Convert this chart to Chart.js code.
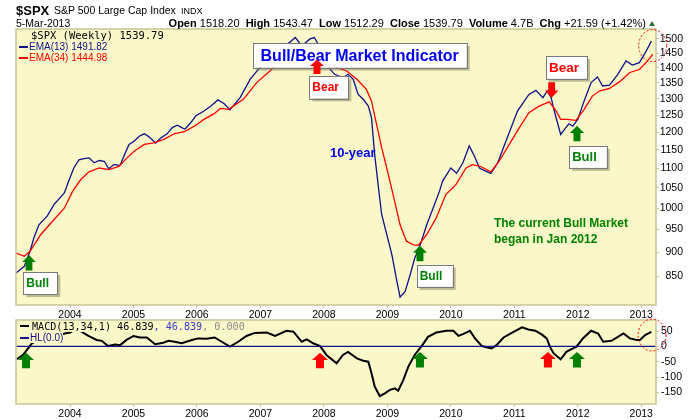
<!DOCTYPE html>
<html><head><meta charset="utf-8">
<script src="https://cdn.jsdelivr.net/npm/chart.js@4.4.1/dist/chart.umd.min.js"></script>
<style>
html,body{margin:0;padding:0;background:#fff;}
#wrap{position:relative;width:700px;height:420px;overflow:hidden;background:#fff;font-family:"Liberation Sans",Arial,sans-serif;color:#000;}
canvas{position:absolute;left:0;}
.t{position:absolute;white-space:nowrap;line-height:1;}
.mono{font-family:"DejaVu Sans Mono",monospace;}
.dash{display:inline-block;width:9px;height:2px;vertical-align:middle;margin-right:1px;position:relative;top:-1px;}
.bg{background:#FAF8C8;}
</style></head><body>
<div id="wrap">
<canvas id="priceChart" width="700" height="322" style="top:0"></canvas>
<canvas id="macdChart" width="700" height="115" style="top:305px"></canvas>

<div class="t" style="left:16px;top:4px;font-size:13px;font-weight:bold;">$SPX</div>
<div class="t" style="left:54px;top:5px;font-size:10.5px;">S&amp;P 500 Large Cap Index</div>
<div class="t" style="left:181px;top:6.5px;font-size:9px;">INDX</div>
<div class="t" style="left:16px;top:17.8px;font-size:10.5px;">5-Mar-2013</div>
<div class="t" style="right:54px;top:17.5px;font-size:11px;"><b>Open</b> 1518.20 &nbsp;<b>High</b> 1543.47 &nbsp;<b>Low</b> 1512.29 &nbsp;<b>Close</b> 1539.79 &nbsp;<b>Volume</b> 4.7B &nbsp;<b>Chg</b> +21.59 (+1.42%)</div>
<div style="position:absolute;left:649px;top:21px;width:0;height:0;border-left:3.5px solid transparent;border-right:3.5px solid transparent;border-bottom:5px solid #2E6B2E;"></div>

<div class="t mono" style="left:31px;top:30.2px;font-size:10.5px;">$SPX (Weekly) 1539.79</div>
<div class="t" style="left:19px;top:42.2px;font-size:10px;color:#10108A;"><span class="dash" style="background:#10108A"></span>EMA(13) 1491.82</div>
<div class="t" style="left:19px;top:53.2px;font-size:10px;color:#FF0000;"><span class="dash" style="background:#FF0000"></span>EMA(34) 1444.98</div>

<div class="t mono" style="left:20px;top:322.1px;font-size:10.1px;"><span class="dash" style="background:#000;margin-right:3px"></span><span class="bg">MACD(13,34,1) 46.839</span><span class="bg" style="color:#3C3CC8">, 46.839</span><span class="bg" style="color:#8C8C8C">, 0.000</span></div>
<div class="t" style="left:20px;top:333.4px;font-size:10px;color:#10108A;"><span class="dash" style="background:#10108A"></span><span class="bg">HL(0.0)</span></div>
</div>
<script>
// ---------- data ----------
const yearTicks = [2004, 2005, 2006, 2007, 2008, 2009, 2010, 2011, 2012, 2013];
const priceTicks = [850, 900, 950, 1000, 1050, 1100, 1150, 1200, 1250, 1300, 1350, 1400, 1450, 1500];
const macdTicks = [-150, -100, -50, 0, 50];

const ema13Years = [2003.15,2003.28,2003.37,2003.43,2003.51,2003.64,2003.75,2003.91,2003.98,2004.06,2004.14,2004.22,2004.30,2004.38,2004.46,2004.54,2004.61,2004.69,2004.79,2004.85,2004.93,2005.01,2005.09,2005.17,2005.24,2005.35,2005.43,2005.53,2005.61,2005.69,2005.74,2005.81,2005.90,2005.98,2006.11,2006.22,2006.33,2006.43,2006.52,2006.68,2006.84,2006.99,2007.13,2007.20,2007.30,2007.42,2007.55,2007.65,2007.78,2007.85,2007.95,2008.04,2008.10,2008.17,2008.30,2008.38,2008.46,2008.54,2008.62,2008.70,2008.75,2008.80,2008.86,2008.91,2008.99,2009.07,2009.15,2009.20,2009.28,2009.36,2009.43,2009.51,2009.62,2009.72,2009.82,2009.87,2010.00,2010.09,2010.19,2010.29,2010.37,2010.45,2010.53,2010.63,2010.74,2010.84,2010.95,2011.05,2011.16,2011.23,2011.34,2011.45,2011.52,2011.58,2011.63,2011.68,2011.73,2011.79,2011.86,2011.92,2012.00,2012.10,2012.21,2012.31,2012.39,2012.50,2012.63,2012.76,2012.86,2012.97,2013.05,2013.16];
const ema13Values = [856,870,902,931,961,981,1009,1037,1067,1101,1123,1126,1128,1115,1121,1119,1099,1110,1108,1133,1165,1174,1188,1195,1187,1169,1183,1195,1213,1220,1215,1208,1227,1247,1262,1277,1296,1284,1266,1303,1362,1400,1423,1417,1440,1480,1505,1475,1500,1505,1465,1428,1394,1378,1367,1378,1362,1313,1298,1277,1242,1137,1050,985,939,895,839,808,819,853,887,913,961,1000,1041,1067,1101,1087,1115,1161,1133,1101,1094,1087,1115,1161,1213,1262,1293,1313,1326,1303,1324,1303,1262,1227,1193,1208,1224,1217,1237,1293,1351,1369,1340,1343,1378,1423,1409,1417,1446,1492];

const ema34Years = [2003.15,2003.28,2003.37,2003.54,2003.70,2003.91,2004.04,2004.17,2004.30,2004.46,2004.61,2004.77,2004.90,2005.01,2005.17,2005.32,2005.48,2005.64,2005.80,2005.96,2006.11,2006.27,2006.37,2006.50,2006.73,2006.94,2007.15,2007.31,2007.45,2007.60,2007.75,2007.90,2008.00,2008.12,2008.20,2008.36,2008.52,2008.67,2008.75,2008.83,2008.91,2008.99,2009.09,2009.20,2009.30,2009.41,2009.49,2009.62,2009.77,2009.92,2010.08,2010.24,2010.34,2010.47,2010.63,2010.76,2010.92,2011.08,2011.23,2011.39,2011.55,2011.66,2011.73,2011.84,2011.97,2012.10,2012.23,2012.34,2012.50,2012.66,2012.82,2012.97,2013.10,2013.18];
const ema34Values = [898,891,902,939,965,1000,1041,1071,1091,1101,1097,1105,1128,1146,1165,1169,1179,1195,1201,1217,1237,1254,1270,1267,1298,1351,1389,1423,1450,1470,1478,1475,1455,1428,1400,1389,1362,1329,1292,1222,1156,1101,1033,961,924,916,915,939,977,1033,1058,1101,1110,1105,1091,1119,1165,1213,1257,1277,1290,1262,1237,1237,1234,1267,1308,1324,1332,1354,1384,1394,1423,1446];

const macdYears = [2003.16,2003.26,2003.40,2003.55,2003.70,2003.82,2003.92,2004.00,2004.10,2004.18,2004.29,2004.42,2004.50,2004.60,2004.71,2004.79,2004.89,2005.00,2005.10,2005.21,2005.34,2005.47,2005.55,2005.65,2005.76,2005.92,2006.02,2006.15,2006.28,2006.39,2006.52,2006.65,2006.78,2006.91,2007.10,2007.23,2007.41,2007.52,2007.65,2007.73,2007.83,2007.94,2008.04,2008.20,2008.30,2008.38,2008.52,2008.62,2008.70,2008.75,2008.80,2008.88,2008.96,2009.04,2009.12,2009.17,2009.25,2009.33,2009.43,2009.54,2009.64,2009.77,2009.93,2010.04,2010.12,2010.19,2010.30,2010.38,2010.49,2010.56,2010.64,2010.72,2010.83,2010.96,2011.12,2011.22,2011.33,2011.43,2011.51,2011.56,2011.62,2011.73,2011.82,2011.87,2011.98,2012.08,2012.21,2012.32,2012.40,2012.53,2012.72,2012.82,2012.93,2012.98,2013.06,2013.16];
const macdValues = [-42,-28,10,25,33,38,42,45,57,48,34,21,18,1,6,4,21,34,29,29,7,12,18,15,10,21,26,25,29,15,-1,15,34,44,45,34,51,48,15,23,10,1,-28,-55,-28,-18,-39,-47,-50,-88,-131,-162,-153,-142,-137,-145,-110,-66,-28,1,31,45,51,51,34,40,51,26,1,-3,-7,4,29,44,62,55,51,39,26,-1,-23,-42,-18,-12,-1,26,51,42,15,18,42,26,21,21,37,47];

const hlYears = [2003.149, 2013.232];
const hlValues = [0, 0];

// ---------- styling / layout ----------
const X_MIN = 2003.149, X_MAX = 2013.232;
const FONT = '"Liberation Sans", Arial, sans-serif';
const PANEL_BG = '#FAF8C8';
const PANEL_BORDER = '#C8C496';
const toPoints = (xs, ys) => xs.map((x, i) => ({ x: x, y: ys[i] }));

const priceNotes = [
  { kind: 'box', x: 2006.878, y: 1485, w: 214, h: 24.5, text: 'Bull/Bear Market Indicator', color: '#0000F0', font: 'bold 16px ' + FONT, center: true },
  { kind: 'arrow', x: 2003.354, y: 894, dir: 'up', w: 13.5, h: 15.5, color: '#008000' },
  { kind: 'box', x: 2003.264, y: 858, w: 34, h: 22, text: 'Bull', color: '#008000', font: 'bold 12px ' + FONT },
  { kind: 'arrow', x: 2007.891, y: 1428, dir: 'up', w: 14, h: 14.5, color: '#FF0000' },
  { kind: 'box', x: 2007.770, y: 1373, w: 39, h: 22.5, text: 'Bear', color: '#FF0000', font: 'bold 12px ' + FONT },
  { kind: 'arrow', x: 2009.513, y: 914, dir: 'up', w: 14, h: 15.5, color: '#008000' },
  { kind: 'box', x: 2009.462, y: 873, w: 36, h: 22, text: 'Bull', color: '#008000', font: 'bold 12px ' + FONT },
  { kind: 'arrow', x: 2011.588, y: 1303, dir: 'down', w: 13.5, h: 15.5, color: '#FF0000' },
  { kind: 'box', x: 2011.498, y: 1439, w: 41, h: 22.5, text: 'Bear', color: '#FF0000', font: 'bold 13.5px ' + FONT },
  { kind: 'arrow', x: 2011.987, y: 1218, dir: 'up', w: 14, h: 15.5, color: '#008000' },
  { kind: 'box', x: 2011.865, y: 1161, w: 37.5, h: 22, text: 'Bull', color: '#008000', font: 'bold 13px ' + FONT },
  { kind: 'text', x: 2008.096, y: 1130, text: '10-year', color: '#0000EE', font: 'bold 13px ' + FONT },
  { kind: 'text', x: 2010.679, y: 957, text: 'The current Bull Market', color: '#008000', font: 'bold 12px ' + FONT },
  { kind: 'text', x: 2010.679, y: 921, text: 'began in Jan 2012', color: '#008000', font: 'bold 12px ' + FONT },
  { kind: 'ring', x: 2013.18, y: 1476, rx: 14, ry: 16 }
];
const macdNotes = [
  { kind: 'arrow', x: 2003.307, y: -21, dir: 'up', w: 16, h: 15.5, color: '#008000' },
  { kind: 'arrow', x: 2007.938, y: -21, dir: 'up', w: 16, h: 15.5, color: '#FF0000' },
  { kind: 'arrow', x: 2009.513, y: -18, dir: 'up', w: 16, h: 15.5, color: '#008000' },
  { kind: 'arrow', x: 2011.529, y: -18, dir: 'up', w: 16, h: 15.5, color: '#FF0000' },
  { kind: 'arrow', x: 2011.987, y: -18, dir: 'up', w: 16, h: 15.5, color: '#008000' },
  { kind: 'ring', x: 2013.17, y: 37, rx: 14, ry: 16 }
];

function blockArrow(ctx, cx, tipY, dir, w, h) {
  const s = dir === 'up' ? 1 : -1;
  const headH = h * 0.46, shaftW = w * 0.5;
  ctx.beginPath();
  ctx.moveTo(cx, tipY);
  ctx.lineTo(cx + w / 2, tipY + s * headH);
  ctx.lineTo(cx + shaftW / 2, tipY + s * headH);
  ctx.lineTo(cx + shaftW / 2, tipY + s * h);
  ctx.lineTo(cx - shaftW / 2, tipY + s * h);
  ctx.lineTo(cx - shaftW / 2, tipY + s * headH);
  ctx.lineTo(cx - w / 2, tipY + s * headH);
  ctx.closePath();
  ctx.fill();
}

function drawNote(chart, it) {
  const ctx = chart.ctx;
  const px = chart.scales.x.getPixelForValue(it.x);
  const py = chart.scales.y.getPixelForValue(it.y);
  ctx.save();
  if (it.kind === 'arrow') {
    ctx.fillStyle = it.color;
    blockArrow(ctx, px, py, it.dir, it.w, it.h);
  } else if (it.kind === 'box') {
    ctx.fillStyle = 'rgba(110,110,80,0.45)';
    ctx.fillRect(px + 3, py + 3, it.w, it.h);
    ctx.fillStyle = '#FFFFFF';
    ctx.fillRect(px, py, it.w, it.h);
    ctx.strokeStyle = '#7A7A7A';
    ctx.lineWidth = 1;
    ctx.strokeRect(Math.round(px) + 0.5, Math.round(py) + 0.5, Math.round(it.w), Math.round(it.h));
    ctx.fillStyle = it.color;
    ctx.font = it.font;
    ctx.textBaseline = 'middle';
    if (it.center) { ctx.textAlign = 'center'; ctx.fillText(it.text, px + it.w / 2, py + it.h / 2 + 1); }
    else { ctx.textAlign = 'left'; ctx.fillText(it.text, px + 3, py + it.h / 2 + 1); }
  } else if (it.kind === 'text') {
    ctx.fillStyle = it.color;
    ctx.font = it.font;
    ctx.textBaseline = 'alphabetic';
    ctx.textAlign = 'left';
    ctx.fillText(it.text, px, py);
  } else if (it.kind === 'ring') {
    ctx.strokeStyle = '#FF0000';
    ctx.lineWidth = 1;
    ctx.setLineDash([2, 2]);
    ctx.beginPath();
    ctx.ellipse(px, py, it.rx, it.ry, 0, 0, Math.PI * 2);
    ctx.stroke();
  }
  ctx.restore();
}

function panelPlugin(notes) {
  return {
    id: 'panel',
    beforeDraw(chart) {
      const { ctx, chartArea: a } = chart;
      ctx.save();
      ctx.fillStyle = PANEL_BG;
      ctx.fillRect(a.left, a.top, a.right - a.left, a.bottom - a.top);
      ctx.restore();
    },
    afterDatasetsDraw(chart) {
      const { ctx, chartArea: a } = chart;
      ctx.save();
      ctx.strokeStyle = PANEL_BORDER;
      ctx.lineWidth = 1.5;
      ctx.strokeRect(a.left, a.top, a.right - a.left, a.bottom - a.top);
      ctx.restore();
    },
    afterDraw(chart) { notes.forEach(n => drawNote(chart, n)); }
  };
}

function xScale(height) {
  return {
    type: 'linear', min: X_MIN, max: X_MAX, position: 'bottom',
    afterBuildTicks: s => { s.ticks = yearTicks.map(v => ({ value: v })); },
    afterFit: s => { s.height = height; },
    grid: { display: true, drawOnChartArea: false, drawTicks: true, tickLength: 3, color: PANEL_BORDER },
    border: { display: false },
    ticks: { callback: v => String(v), font: { family: FONT, size: 10.5 }, color: '#000', padding: 1, maxRotation: 0, autoSkip: false }
  };
}

const common = {
  responsive: false, animation: false, devicePixelRatio: 1,
  plugins: { legend: { display: false }, tooltip: { enabled: false } },
  elements: { point: { radius: 0 }, line: { tension: 0 } },
  events: []
};

new Chart(document.getElementById('priceChart'), {
  type: 'line',
  data: {
    datasets: [
      { label: 'EMA(34)', data: toPoints(ema34Years, ema34Values), borderColor: '#FF0000', borderWidth: 1.3, fill: false },
      { label: 'EMA(13)', data: toPoints(ema13Years, ema13Values), borderColor: '#10108A', borderWidth: 1.3, fill: false }
    ]
  },
  options: Object.assign({}, common, {
    layout: { padding: { left: 16, top: 29, right: 17, bottom: 0 } },
    scales: {
      x: xScale(17),
      y: {
        type: 'logarithmic', position: 'right', min: 793, max: 1536,
        afterBuildTicks: s => { s.ticks = priceTicks.map(v => ({ value: v })); },
        afterFit: s => { s.width = 27; },
        grid: { display: true, drawOnChartArea: false, tickLength: 3, color: PANEL_BORDER },
        border: { display: false },
        ticks: { callback: v => String(v), crossAlign: 'far', padding: 1, font: { family: FONT, size: 10.5 }, color: '#000', autoSkip: false }
      }
    }
  }),
  plugins: [panelPlugin(priceNotes)]
});

new Chart(document.getElementById('macdChart'), {
  type: 'line',
  data: {
    datasets: [
      { label: 'HL(0.0)', data: toPoints(hlYears, hlValues), borderColor: '#10108A', borderWidth: 1.2, fill: false },
      { label: 'MACD(13,34,1)', data: toPoints(macdYears, macdValues), borderColor: '#000000', borderWidth: 2, fill: false }
    ]
  },
  options: Object.assign({}, common, {
    layout: { padding: { left: 16, top: 15, right: 0, bottom: 0 } },
    scales: {
      x: xScale(16),
      y: {
        type: 'linear', position: 'right', min: -188, max: 86,
        afterBuildTicks: s => { s.ticks = macdTicks.map(v => ({ value: v })); },
        afterFit: s => { s.width = 44; },
        grid: { display: true, drawOnChartArea: false, tickLength: 3, color: PANEL_BORDER },
        border: { display: false },
        ticks: { callback: v => String(v), crossAlign: 'near', padding: 2, font: { family: FONT, size: 10.5 }, color: '#000', autoSkip: false }
      }
    }
  }),
  plugins: [panelPlugin(macdNotes)]
});
</script>
</body></html>
